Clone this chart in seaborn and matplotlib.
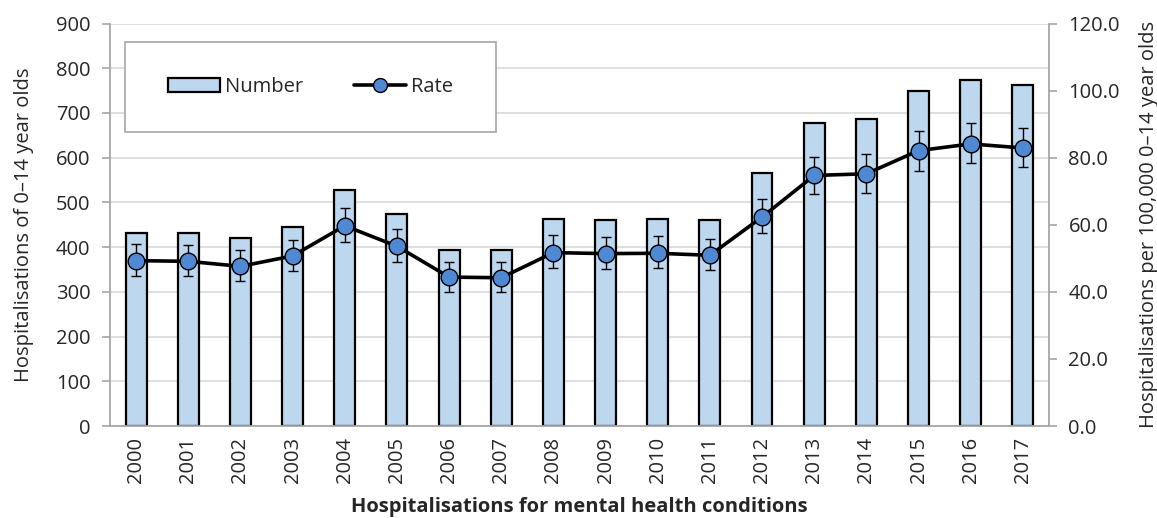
import numpy as np
import pandas as pd
import matplotlib
matplotlib.use("Agg")
import matplotlib.pyplot as plt
from matplotlib.patches import Patch, Rectangle
from matplotlib.lines import Line2D
import seaborn as sns

# values
years = [str(y) for y in range(2000, 2018)]
number = [431, 431, 420, 446, 528, 475, 394, 394, 463, 461, 463, 460, 565, 678, 686, 749, 773, 762]
rate = [49.3, 49.1, 47.6, 50.7, 59.7, 53.6, 44.4, 44.2, 51.7, 51.4, 51.5, 50.9, 62.3, 74.7, 75.2, 82.1, 84.1, 82.9]
rate_lo = [44.8, 44.6, 43.3, 46.1, 54.8, 48.8, 40.1, 39.9, 47.2, 46.9, 47.0, 46.4, 57.4, 69.2, 69.6, 76.1, 78.4, 77.1]
rate_hi = [54.3, 53.9, 52.5, 55.6, 65.0, 58.6, 49.0, 48.8, 56.8, 56.4, 56.5, 55.8, 67.7, 80.3, 81.0, 88.1, 90.4, 88.9]

df = pd.DataFrame({"year": years, "number": number, "rate": rate,
                   "lo": rate_lo, "hi": rate_hi})
df["pos"] = np.arange(len(df))

sns.set_style("white")
plt.rcParams["font.family"] = ["Open Sans", "DejaVu Sans"]
fs = 14.5
plt.rcParams["font.size"] = fs

bar_col = "#BDD7EE"
dot_col = "#4F88D3"
axis_col = "#A6A6A6"
grid_col = "#D9D9D9"

fig = plt.figure(figsize=(11.57, 5.18), dpi=100)
ax = fig.add_axes([0.0951, 0.1776, 0.8115, 0.777])

# bars - number of hospitalisations
sns.barplot(data=df, x="year", y="number", ax=ax, color=bar_col,
            width=0.4, edgecolor="black", linewidth=1.6, saturation=1, zorder=2)
ax.set_ylim(0, 900)
ax.set_yticks(range(0, 901, 100))
ax.yaxis.grid(True, color=grid_col, linewidth=1.2, zorder=0)
ax.set_axisbelow(True)

# rate on the secondary axis, with its confidence interval
ax2 = ax.twinx()
ax2.errorbar(df["pos"], df["rate"], yerr=[df["rate"] - df["lo"], df["hi"] - df["rate"]],
             fmt="none", ecolor="black", elinewidth=1.0, capsize=3.5, capthick=1.0, zorder=3)
sns.lineplot(data=df, x="pos", y="rate", ax=ax2, color="black", linewidth=2.6,
             marker="o", markersize=12, markerfacecolor=dot_col,
             markeredgecolor="black", markeredgewidth=1.0, zorder=4)
ax2.set_ylim(0, 120)
ax2.set_yticks(np.arange(0, 121, 20))
ax2.set_yticklabels([f"{v:.1f}" for v in np.arange(0, 121, 20)])
ax.set_xlim(-0.5, len(years) - 0.5)

# axis cosmetics
for a in (ax, ax2):
    a.spines["top"].set_visible(False)
    for s in ("left", "right", "bottom"):
        a.spines[s].set_color(axis_col)
        a.spines[s].set_linewidth(1.3)
ax.spines["right"].set_visible(False)
ax2.spines["left"].set_visible(False)
ax2.spines["bottom"].set_visible(False)

ax.set_xticks(np.arange(len(years)))
ax.set_xticklabels(years, rotation=90)
ax.set_xticks(np.arange(-0.5, len(years)), minor=True)
ax.tick_params(axis="x", which="major", length=0, pad=8, labelsize=fs)
ax.tick_params(axis="x", which="minor", length=6, width=1.2, color=axis_col, direction="out")
ax.tick_params(axis="y", length=6, width=1.2, color=axis_col, direction="out", pad=8, labelsize=fs)
ax2.tick_params(axis="y", length=6, width=1.2, color=axis_col, direction="out", pad=8, labelsize=fs)

ax.set_xlabel("Hospitalisations for mental health conditions", fontweight="bold", labelpad=10)
ax.set_ylabel("Hospitalisations of 0\u201314 year olds", labelpad=16)
ax2.set_ylabel("Hospitalisations per 100,000 0\u201314 year olds", labelpad=14)

# legend: box drawn separately so its size matches the original
legend_box = (0.016, 0.730, 0.395, 0.224)
ax2.add_patch(Rectangle(legend_box[:2], legend_box[2], legend_box[3], transform=ax2.transAxes,
                        facecolor="white", edgecolor=axis_col, linewidth=1.2, zorder=4.5))
handles = [Patch(facecolor=bar_col, edgecolor="black", linewidth=1.6, label="Number"),
           Line2D([], [], color="black", linewidth=2.6, marker="o", markersize=10,
                  markerfacecolor=dot_col, markeredgecolor="black", label="Rate")]
leg = ax2.legend(handles=handles, loc="center", bbox_to_anchor=legend_box,
                 borderaxespad=0, ncol=2, frameon=False,
                 handlelength=2.6, handletextpad=0.25, columnspacing=2.5, fontsize=fs)
leg.set_zorder(5)

plt.savefig("out.png", dpi=100)
